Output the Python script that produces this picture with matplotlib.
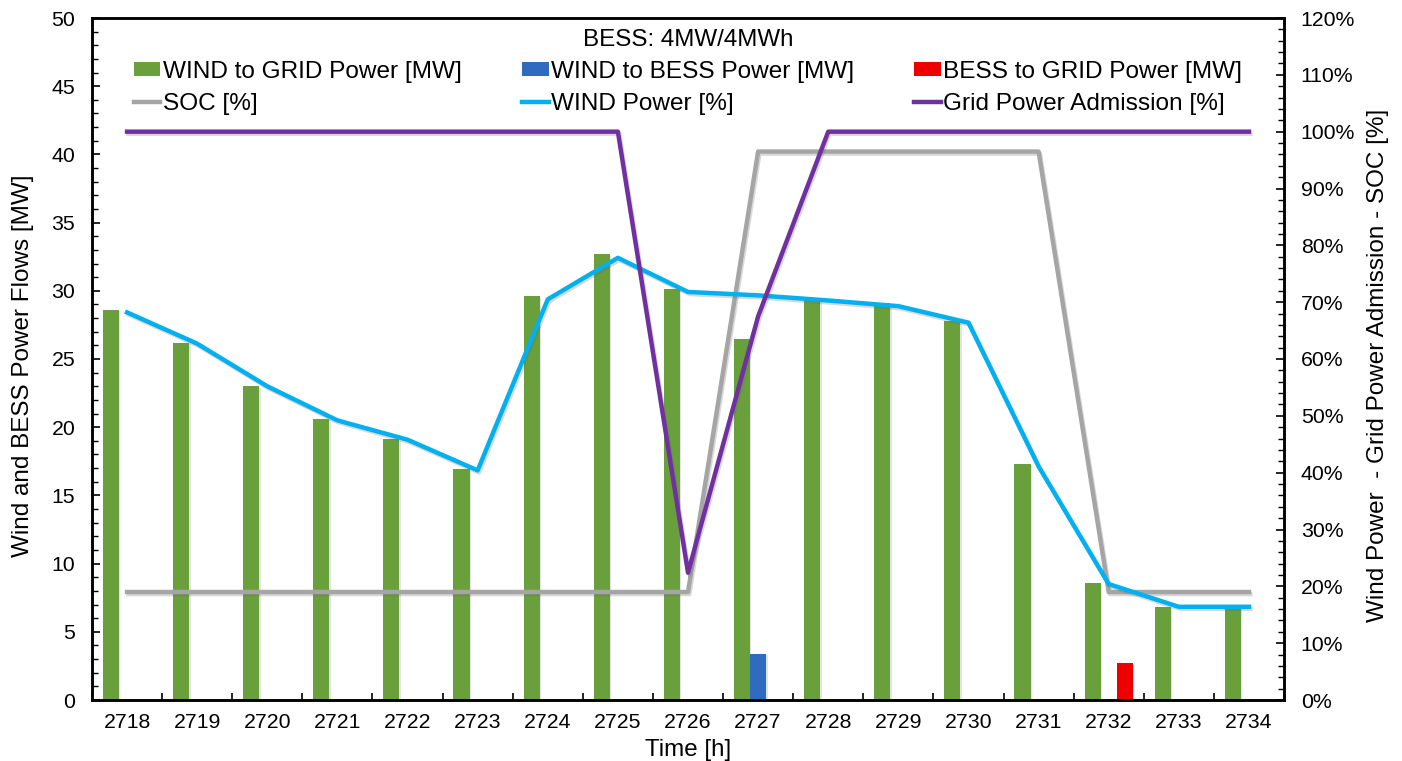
import matplotlib
matplotlib.use("Agg")
import matplotlib.pyplot as plt
import matplotlib.patheffects as pe
import numpy as np
from matplotlib.ticker import FuncFormatter, MultipleLocator, FixedLocator

plt.rcParams['font.family'] = ['Liberation Sans', 'DejaVu Sans']

hours = ['2718', '2719', '2720', '2721', '2722', '2723', '2724', '2725', '2726',
         '2727', '2728', '2729', '2730', '2731', '2732', '2733', '2734']
wind_to_grid = [28.6, 26.2, 23.0, 20.6, 19.1, 16.9, 29.6, 32.7, 30.1,
                26.5, 29.4, 29.1, 27.8, 17.3, 8.6, 6.85, 6.85]
wind_to_bess = [0, 0, 0, 0, 0, 0, 0, 0, 0,
                3.4, 0, 0, 0, 0, 0, 0, 0]
bess_to_grid = [0, 0, 0, 0, 0, 0, 0, 0, 0,
                0, 0, 0, 0, 0, 2.7, 0, 0]
soc_pct = [19.0, 19.0, 19.0, 19.0, 19.0, 19.0, 19.0, 19.0, 19.0,
           96.5, 96.5, 96.5, 96.5, 96.5, 19.0, 19.0, 19.0]
wind_pct = [68.2, 62.7, 55.2, 49.2, 45.8, 40.4, 70.5, 77.8, 71.8,
            71.2, 70.3, 69.3, 66.4, 41.1, 20.4, 16.4, 16.4]
grid_adm_pct = [100, 100, 100, 100, 100, 100, 100, 100, 22.4,
                67.5, 100, 100, 100, 100, 100, 100, 100]

c_green = '#69A03C'
c_blue = '#2F6CC0'
c_red = '#EE0000'
c_grey = '#A5A5A5'
c_cyan = '#00B0F0'
c_purple = '#7030A0'

fig = plt.figure(figsize=(14.02, 7.61), dpi=100)
ax = fig.add_axes([92/1402, 1-700/761, (1284-92)/1402, (700-18)/761])
ax2 = ax.twinx()

shadow = [pe.SimplePatchShadow(offset=(1, -1), shadow_rgbFace='0.5', alpha=0.22), pe.Normal()]
line_shadow = [pe.SimpleLineShadow(offset=(1, -1.5), shadow_color='0.4', alpha=0.25), pe.Normal()]

x = np.arange(len(hours))
bw = 0.23
b1 = ax.bar(x - bw, wind_to_grid, bw, color=c_green, label='WIND to GRID Power [MW]')
b2 = ax.bar(x, wind_to_bess, bw, color=c_blue, label='WIND to BESS Power [MW]')
b3 = ax.bar(x + bw, bess_to_grid, bw, color=c_red, label='BESS to GRID Power [MW]')
for bc in (b1, b2, b3):
    for p in bc.patches:
        if p.get_height() > 0:
            p.set_path_effects(shadow)

l1, = ax2.plot(x, soc_pct, color=c_grey, lw=3.2, label='SOC [%]', path_effects=line_shadow)
l2, = ax2.plot(x, wind_pct, color=c_cyan, lw=3.2, label='WIND Power [%]', path_effects=line_shadow)
l3, = ax2.plot(x, grid_adm_pct, color=c_purple, lw=3.2, label='Grid Power Admission [%]',
               path_effects=line_shadow)

ax.set_xlim(-0.5, len(hours) - 0.5)
ax.set_ylim(0, 50)
ax2.set_ylim(0, 120)

ax.set_xticks(x)
ax.set_xticklabels(hours)
ax.xaxis.set_minor_locator(FixedLocator(np.arange(-0.5, len(hours) + 0.5, 1.0)))
ax.tick_params(axis='x', which='major', length=0, pad=9, labelsize=15.3)
ax.tick_params(axis='x', which='minor', direction='in', length=5, width=1.2)

ax.yaxis.set_major_locator(MultipleLocator(5))
ax.yaxis.set_minor_locator(MultipleLocator(1))
ax.tick_params(axis='y', which='major', direction='in', length=6, width=1.2, pad=12, labelsize=15.3)
ax.tick_params(axis='y', which='minor', direction='in', length=4, width=1.0)

ax2.yaxis.set_major_locator(MultipleLocator(10))
ax2.yaxis.set_minor_locator(MultipleLocator(2))
ax2.yaxis.set_major_formatter(FuncFormatter(lambda v, p: f"{int(round(v))}%"))
ax2.tick_params(axis='y', which='major', direction='in', length=6, width=1.2, pad=12, labelsize=15.3)
ax2.tick_params(axis='y', which='minor', direction='in', length=4, width=1.0)

for a in (ax, ax2):
    for s in a.spines.values():
        s.set_linewidth(1.8)
        s.set_color('black')

ax.set_xlabel('Time [h]', fontsize=17.4)
ax.xaxis.set_label_coords(0.5, -0.073)
ax.xaxis.label.set_va('center')
ax.set_ylabel('Wind and BESS Power Flows [MW]', fontsize=17.5)
ax.yaxis.set_label_coords(-0.0575, 0.49)
ax.yaxis.label.set_va('center')
ax2.set_ylabel('Wind Power  - Grid Power Admission - SOC [%]', fontsize=17.5)
ax2.yaxis.set_label_coords(1.0789, 0.49)
ax2.yaxis.label.set_va('center')

handles = [b1, l1, b2, l2, b3, l3]
labels = [h.get_label() for h in handles]
leg = ax2.legend(handles, labels, ncol=3, loc='upper center', bbox_to_anchor=(0.5, 1.0),
                 frameon=False, fontsize=17.6, title='BESS: 4MW/4MWh', title_fontsize=17.4,
                 handlelength=1.1, handleheight=0.5, handletextpad=0.1, columnspacing=2.45,
                 labelspacing=0.4, borderaxespad=0.05)
for lh in leg.legend_handles:
    lh.set_path_effects([])

fig.savefig('out.png', dpi=100)
